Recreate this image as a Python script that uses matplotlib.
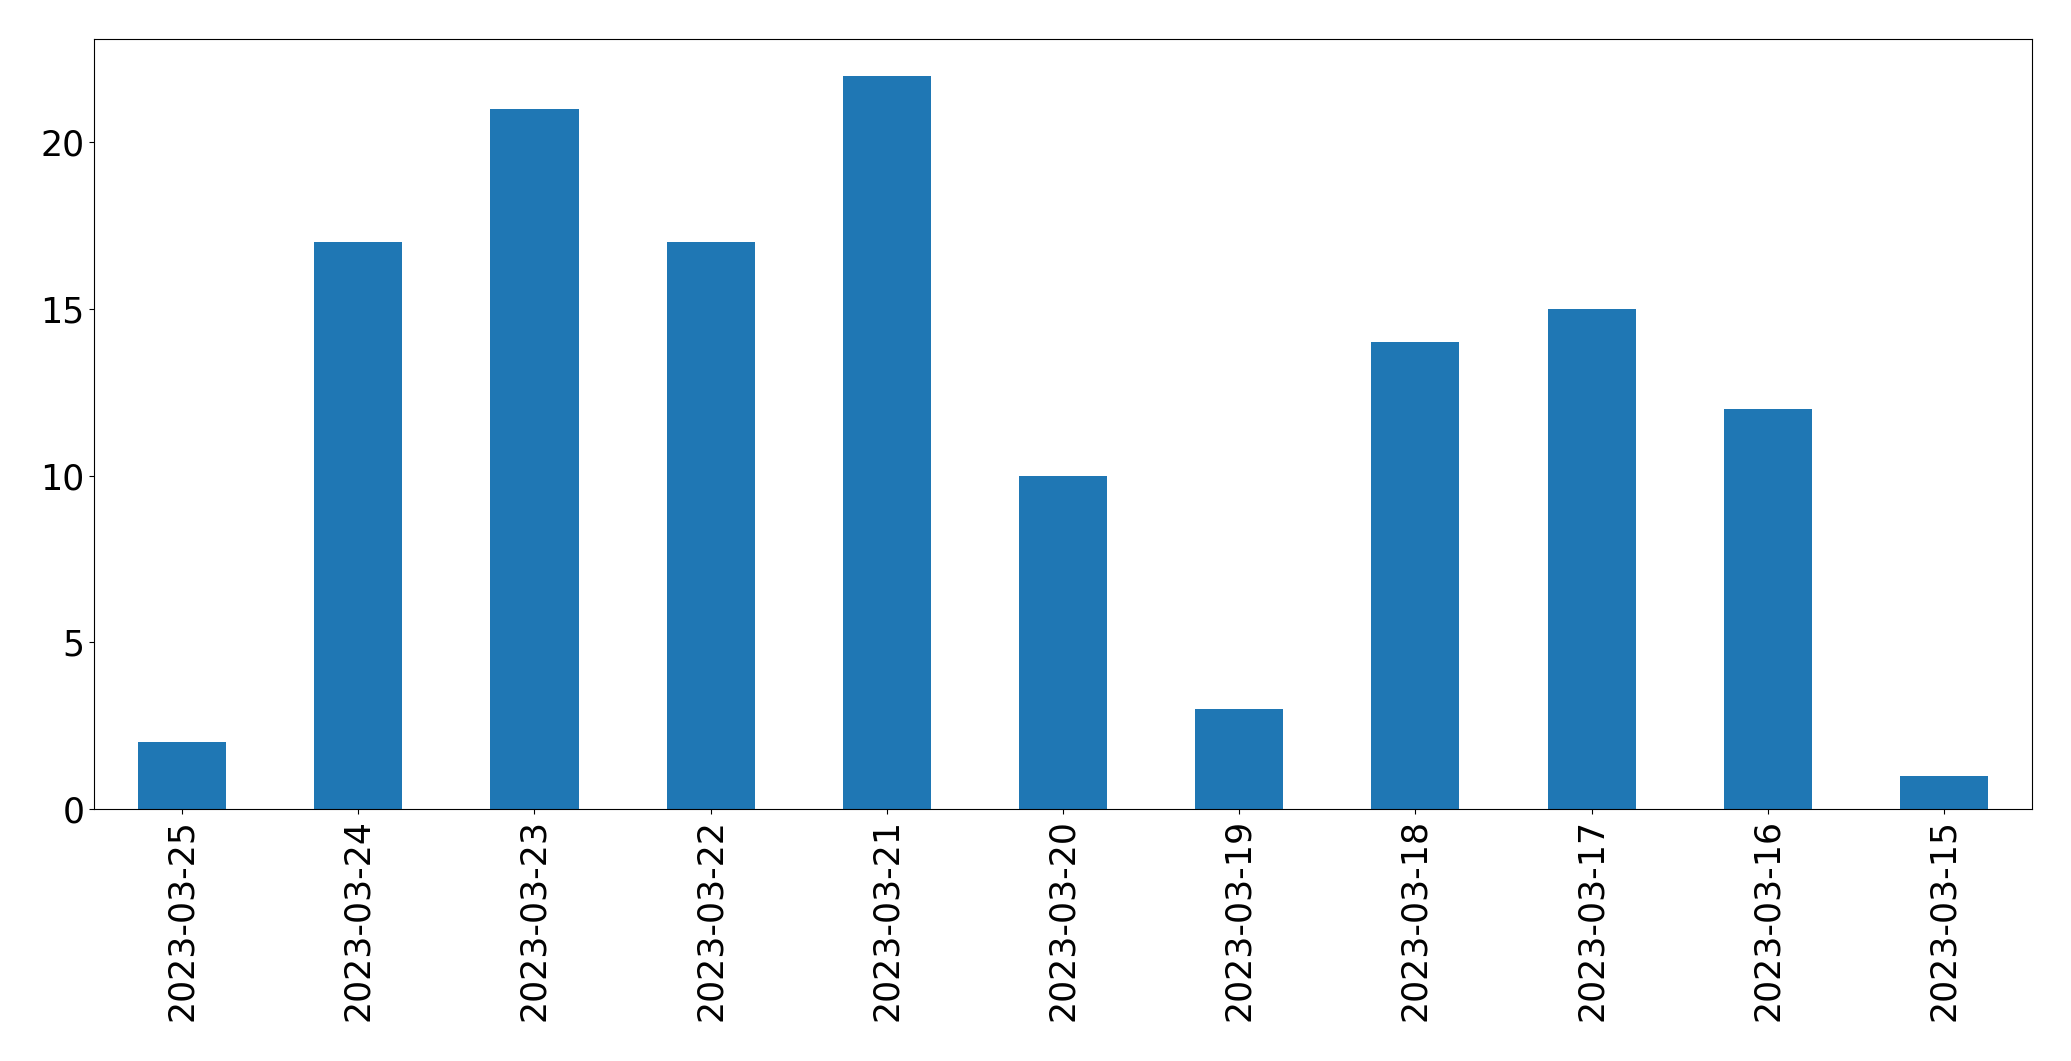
import matplotlib
matplotlib.use("Agg")
import matplotlib.pyplot as plt
import pandas as pd

# Dados do gráfico
datas = ["2023-03-25", "2023-03-24", "2023-03-23", "2023-03-22", "2023-03-21",
         "2023-03-20", "2023-03-19", "2023-03-18", "2023-03-17", "2023-03-16",
         "2023-03-15"]
contagens = [2, 17, 21, 17, 22, 10, 3, 14, 15, 12, 1]

serie = pd.Series(contagens, index=datas)

fig = plt.figure(figsize=(20.71, 10.61), dpi=100)
ax = fig.add_subplot(111)
serie.plot(kind="bar", ax=ax, color="#1f77b4", fontsize=25)
plt.subplots_adjust(left=0.0454, right=0.9812, top=0.9632, bottom=0.2375)

fig.savefig("out.png", dpi=100)
